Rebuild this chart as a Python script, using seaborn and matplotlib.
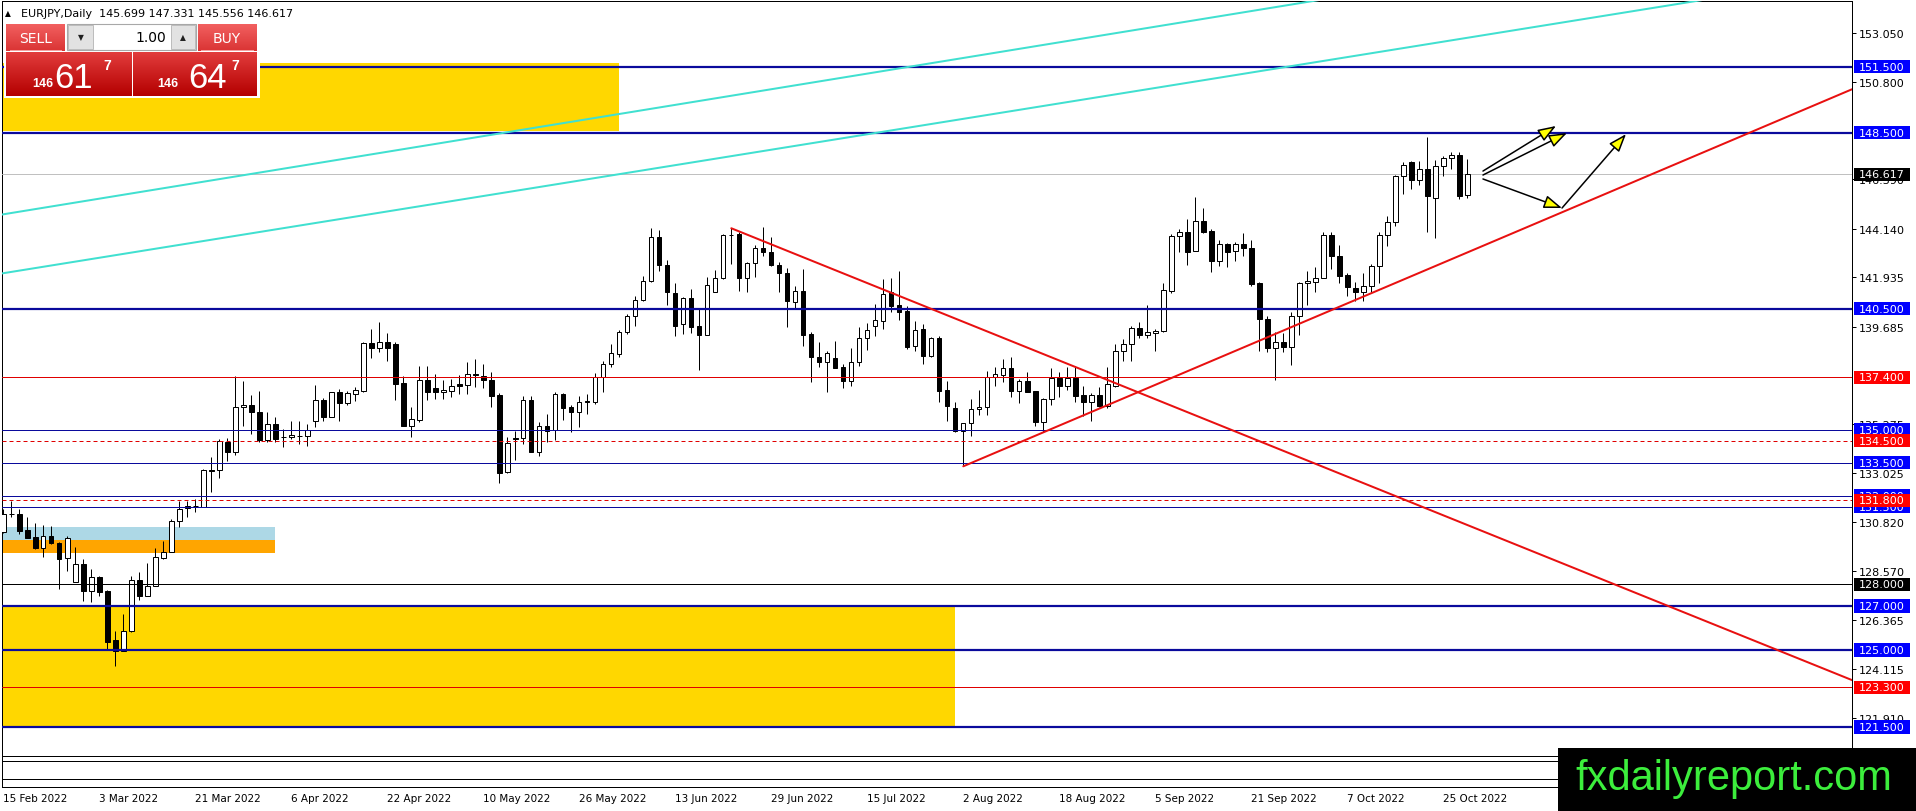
import numpy as np
import pandas as pd
import matplotlib
matplotlib.use("Agg")
import matplotlib.pyplot as plt
import matplotlib.transforms as mtransforms
from matplotlib.patches import Rectangle
from matplotlib.colors import LinearSegmentedColormap
import seaborn as sns

# ---------------- data (EURJPY daily candles) ----------------
opens = [130.35, 131.18, 131.18, 130.45, 130.12, 129.62, 130.17, 129.86, 129.17, 128.08,
         128.91, 127.7, 128.3, 127.7, 125.45, 124.97, 125.88, 128.18, 127.47, 127.89,
         129.18, 129.44, 130.88, 131.45, 131.56, 131.5, 133.2, 133.2, 134.47, 133.98,
         136.03, 136.14, 135.83, 134.56, 135.27, 134.7, 134.67, 134.74, 134.74, 135.42,
         136.36, 135.6, 136.71, 136.21, 136.62, 136.79, 138.95, 138.71, 138.99, 138.9,
         137.14, 135.2, 135.47, 137.27, 136.91, 136.71, 136.79, 137.1, 137.06, 137.53,
         137.47, 137.27, 136.59, 133.08, 134.62, 134.62, 136.36, 134.02, 135.17, 135.02,
         136.64, 136.03, 135.8, 136.3, 136.26, 137.39, 138.0, 138.45, 139.44, 140.2,
         140.92, 141.79, 143.76, 142.52, 141.21, 139.8, 140.99, 139.74, 139.33, 141.29,
         141.92, 143.86, 143.91, 141.92, 142.58, 143.27, 143.08, 142.52, 142.12, 140.8,
         141.3, 139.36, 138.3, 138.11, 138.26, 137.85, 137.24, 138.08, 139.17, 139.71,
         139.97, 141.26, 140.68, 140.42, 138.83, 139.59, 138.38, 139.17, 136.83, 136.0,
         134.94, 135.3, 135.95, 136.03, 137.42, 137.5, 137.8, 136.79, 137.23, 136.77,
         135.38, 136.41, 137.38, 136.99, 137.35, 136.59, 136.26, 136.59, 136.08, 137.02,
         138.58, 138.91, 139.62, 139.33, 139.41, 139.5, 141.33, 143.8, 143.98, 143.15,
         144.49, 144.05, 142.67, 143.44, 143.12, 143.44, 143.27, 141.67, 140.05, 138.74,
         138.98, 138.79, 140.2, 141.67, 141.74, 141.89, 143.86, 142.92, 142.05, 141.44,
         141.29, 141.53, 142.44, 143.86, 144.44, 146.56, 147.2, 146.38, 146.86, 145.53,
         147.02, 147.35, 147.5, 145.699]
highs = [131.41, 131.79, 131.41, 131.03, 130.77, 130.68, 130.62, 129.92, 130.2, 129.67,
         129.14, 128.68, 128.38, 127.74, 125.88, 126.64, 128.38, 128.53, 128.95, 129.62,
         129.97, 130.95, 131.79, 131.79, 131.86, 133.23, 133.76, 134.59, 134.62, 137.47,
         137.24, 136.59, 136.77, 135.83, 135.58, 135.04, 135.43, 135.43, 135.27, 137.05,
         136.44, 136.74, 136.86, 136.79, 136.94, 138.99, 139.59, 139.89, 139.41, 138.99,
         137.44, 136.03, 137.92, 137.89, 137.55, 137.27, 137.32, 137.5, 138.11, 138.23,
         138.0, 137.65, 136.68, 134.67, 134.97, 136.56, 136.56, 135.35, 135.73, 136.74,
         136.68, 136.14, 136.53, 136.64, 137.59, 138.15, 138.91, 139.56, 140.27, 141.08,
         142.01, 144.17, 144.09, 142.74, 141.67, 141.06, 141.41, 140.5, 141.94, 142.27,
         143.91, 144.17, 143.99, 142.65, 143.41, 144.21, 143.76, 142.62, 142.35, 141.56,
         142.32, 139.44, 138.98, 138.61, 139.06, 138.0, 138.73, 139.67, 139.86, 140.73,
         141.86, 141.89, 142.24, 140.65, 139.97, 139.8, 139.21, 139.29, 137.24, 136.26,
         135.3, 136.41, 136.83, 137.7, 137.85, 138.23, 138.3, 137.32, 137.62, 136.79,
         136.44, 137.8, 137.62, 137.85, 137.89, 137.02, 136.68, 136.94, 137.85, 138.91,
         139.14, 139.74, 139.89, 140.68, 139.59, 141.68, 143.91, 144.14, 144.59, 145.58,
         145.08, 144.14, 143.65, 143.5, 143.53, 143.94, 143.64, 141.71, 140.2, 139.44,
         139.41, 140.35, 141.71, 142.24, 142.42, 144.02, 143.98, 143.41, 142.14, 141.71,
         142.14, 142.55, 143.98, 144.74, 146.59, 147.2, 147.22, 147.24, 148.3, 147.29,
         147.47, 147.65, 147.62, 147.331]
lows = [130.3, 131.03, 130.27, 130.07, 129.59, 129.24, 129.82, 127.77, 128.6, 128.08,
        127.24, 127.2, 127.47, 125.04, 124.29, 124.97, 125.8, 127.29, 127.44, 127.89,
        129.14, 129.44, 130.6, 131.06, 131.26, 131.48, 132.2, 132.83, 133.6, 133.88,
        135.2, 134.82, 134.44, 134.47, 134.47, 134.21, 134.59, 134.36, 134.26, 135.15,
        135.42, 135.58, 135.42, 136.14, 136.33, 136.74, 138.27, 138.56, 138.15, 136.38,
        135.2, 134.67, 135.35, 136.38, 136.41, 136.41, 136.52, 136.64, 136.64, 136.94,
        136.91, 136.06, 132.58, 133.05, 133.65, 134.36, 133.99, 133.83, 134.44, 134.56,
        135.47, 134.89, 135.12, 135.73, 136.18, 136.71, 137.85, 138.3, 139.36, 139.74,
        140.88, 141.74, 142.24, 140.68, 139.29, 139.36, 139.41, 137.74, 139.33, 141.29,
        141.86, 142.55, 141.33, 141.29, 141.94, 142.92, 142.47, 141.29, 139.7, 140.53,
        138.83, 137.17, 137.88, 136.74, 137.8, 136.91, 137.02, 137.89, 138.65, 139.29,
        139.59, 140.35, 140.02, 138.68, 138.6, 138.0, 138.33, 136.29, 135.42, 134.89,
        133.35, 134.74, 135.68, 135.68, 136.98, 137.17, 136.48, 136.21, 136.72, 135.17,
        134.89, 136.14, 136.48, 136.83, 136.29, 135.65, 135.42, 136.03, 135.98, 136.94,
        138.15, 138.15, 139.17, 139.17, 138.61, 139.44, 141.23, 143.08, 142.52, 143.15,
        143.95, 142.2, 142.47, 142.42, 142.7, 142.92, 141.56, 138.6, 138.56, 137.29,
        138.53, 137.95, 139.32, 140.68, 141.29, 141.89, 142.32, 141.68, 141.08, 140.88,
        140.88, 141.29, 141.68, 143.38, 144.26, 145.73, 145.95, 146.15, 144.02, 143.71,
        146.56, 146.86, 145.5, 145.556]
closes = [131.18, 131.17, 130.42, 130.09, 129.62, 130.17, 129.85, 129.14, 130.08, 128.91,
          127.7, 128.3, 127.65, 125.38, 124.97, 125.88, 128.18, 127.47, 127.92, 129.21,
          129.47, 130.88, 131.41, 131.56, 131.56, 133.18, 133.15, 134.5, 133.98, 136.03,
          136.14, 135.8, 134.56, 135.27, 134.59, 134.66, 134.77, 134.74, 135.01, 136.36,
          135.6, 136.71, 136.21, 136.67, 136.82, 138.95, 138.71, 138.99, 138.71, 137.09,
          135.2, 135.5, 137.27, 136.74, 136.71, 136.82, 137.02, 137.02, 137.53, 137.5,
          137.27, 136.56, 133.05, 134.41, 134.59, 136.36, 133.99, 135.17, 134.94, 136.64,
          136.02, 135.8, 136.26, 136.26, 137.39, 138.0, 138.5, 139.44, 140.2, 140.92,
          141.79, 143.76, 142.52, 141.26, 139.74, 140.99, 139.7, 139.33, 141.59, 141.89,
          143.86, 143.88, 141.92, 142.58, 143.27, 143.08, 142.52, 142.12, 140.88, 141.3,
          139.33, 138.3, 138.11, 138.5, 137.82, 137.24, 138.08, 139.17, 139.56, 140.0,
          141.2, 140.65, 140.38, 138.79, 139.56, 138.38, 139.17, 136.79, 136.11, 134.97,
          135.3, 135.95, 136.06, 137.39, 137.53, 137.8, 136.79, 137.23, 136.74, 135.38,
          136.41, 137.38, 136.99, 137.38, 136.56, 136.26, 136.59, 136.08, 137.09, 138.58,
          138.91, 139.62, 139.33, 139.44, 139.5, 141.36, 143.8, 143.98, 143.08, 144.49,
          144.02, 142.7, 143.44, 143.08, 143.44, 143.26, 141.64, 140.05, 138.74, 138.98,
          138.79, 140.2, 141.67, 141.79, 141.89, 143.86, 142.89, 142.02, 141.48, 141.29,
          141.53, 142.47, 143.86, 144.47, 146.56, 147.05, 146.38, 146.86, 145.65, 147.02,
          147.35, 147.5, 145.65, 146.617]

date_labels = ["15 Feb 2022", "3 Mar 2022", "21 Mar 2022", "6 Apr 2022", "22 Apr 2022",
               "10 May 2022", "26 May 2022", "13 Jun 2022", "29 Jun 2022", "15 Jul 2022",
               "2 Aug 2022", "18 Aug 2022", "5 Sep 2022", "21 Sep 2022", "7 Oct 2022",
               "25 Oct 2022"]
date_label_bars = [0, 12, 24, 36, 48, 60, 72, 84, 96, 108, 120, 132, 144, 156, 168, 180]

# visible price-scale ticks (those fully hidden under level boxes are left out)
ytick_values = [153.050, 150.800, 146.390, 144.140, 141.935, 139.685,
                135.275, 133.025, 130.820, 128.570, 126.365, 124.115, 121.910]

# horizontal levels
level_prices = [151.5, 148.5, 146.617, 140.5, 137.4, 135.0, 134.5, 133.5, 132.0, 131.5,
                131.8, 128.0, 127.0, 125.0, 123.3, 121.5, 120.2, 119.95, 119.15]
level_colors = ["#0A0A9C", "#0A0A9C", "#C0C0C0", "#0A0A9C", "#E00000", "#0A0A9C", "#E00000",
                "#0A0A9C", "#0A0A9C", "#0A0A9C", "#E00000", "#000000", "#0A0A9C", "#0A0A9C",
                "#E00000", "#0A0A9C", "#000000", "#000000", "#000000"]
level_widths_px = [2.2, 2.2, 1, 2.2, 1, 1, 1, 1, 1, 1, 1, 1, 2.2, 2.2, 1, 2.2, 1, 1, 1]
level_dashed = [False, False, False, False, False, False, True, False, False, False,
                True, False, False, False, False, False, False, False, False]
level_box_colors = ["#0000FF", "#0000FF", "#000000", "#0000FF", "#FF0000", "#0000FF",
                    "#FF0000", "#0000FF", "#0000FF", "#0000FF", "#FF0000", "#000000",
                    "#0000FF", "#0000FF", "#FF0000", "#0000FF", None, None, None]

# zones (rectangles): bar range and price range
zone_x0 = [-0.2, -0.2, -0.2, -0.2]
zone_x1 = [77.0, 119.0, 34.0, 34.0]
zone_lo = [148.6, 121.5, 130.0, 129.4]
zone_hi = [151.7, 127.0, 130.6, 130.0]
zone_colors = ["#FFD700", "#FFD700", "#ADD8E6", "#FFA500"]

# trend lines (bar, price) -> (bar, price)
trend_x0 = [-0.16, -0.16, 91.0, 120.0]
trend_p0 = [144.795, 142.118, 144.17, 133.35]
trend_x1 = [231.1, 231.1, 231.1, 231.1]
trend_p1 = [158.49, 155.64, 123.63, 150.49]
trend_colors = ["#40E0D0", "#40E0D0", "#E81010", "#E81010"]

# arrows (bar, price) -> (bar, price)
arrow_x0 = [184.96, 184.96, 184.96, 194.84]
arrow_p0 = [146.77, 146.59, 146.41, 145.09]
arrow_x1 = [194.09, 195.46, 194.84, 202.84]
arrow_p1 = [148.82, 148.50, 145.09, 148.45]

header_text = "EURJPY,Daily  145.699 147.331 145.556 146.617"

# ---------------- figure ----------------
sns.set_style("white")
plt.rcParams["font.family"] = ["DejaVu Sans"]

W, H = 1916, 812
fig = plt.figure(figsize=(W / 100, H / 100), dpi=100)
fig.patch.set_facecolor("white")
ax = fig.add_axes([2 / W, (H - 788) / H, 1850 / W, 786 / H])
ax.set_facecolor("white")

PT = 0.72  # points per pixel

# zones
for x0, x1, lo, hi, c in zip(zone_x0, zone_x1, zone_lo, zone_hi, zone_colors):
    ax.add_patch(Rectangle((x0, lo), x1 - x0, hi - lo, facecolor=c, edgecolor="none", zorder=1))

# candles
df = pd.DataFrame({"o": opens, "h": highs, "l": lows, "c": closes})
df["x"] = np.arange(len(df))
ax.vlines(df["x"], df["l"], df["h"], color="black", lw=1.0 * PT, zorder=4)
body_bottom = np.minimum(df["o"], df["c"])
body_h = np.abs(df["c"] - df["o"])
body_col = ["white" if c >= o else "black" for o, c in zip(df["o"], df["c"])]
ax.bar(df["x"], body_h, bottom=body_bottom, width=0.55, color=body_col,
       edgecolor="black", lw=1.0 * PT, zorder=5)

# levels
for p, c, w, d in zip(level_prices, level_colors, level_widths_px, level_dashed):
    ax.axhline(p, color=c, lw=w * PT, ls=(0, (4, 3)) if d else "-",
               zorder=3 if c == "#C0C0C0" else 6)

# trend lines via seaborn
for x0, p0, x1, p1, c in zip(trend_x0, trend_p0, trend_x1, trend_p1, trend_colors):
    sns.lineplot(x=[x0, x1], y=[p0, p1], ax=ax, color=c, linewidth=2.0 * PT, zorder=7)

# arrows
for x0, p0, x1, p1 in zip(arrow_x0, arrow_p0, arrow_x1, arrow_p1):
    ax.annotate("", xy=(x1, p1), xytext=(x0, p0),
                arrowprops=dict(arrowstyle="-|>,head_length=0.55,head_width=0.2",
                                fc="#FFFF00", ec="black", lw=1.1,
                                shrinkA=0, shrinkB=0, mutation_scale=20),
                zorder=8)

# axes limits
PXU = 22.0
ax.set_ylim(140.5 - (788 - 310) / PXU, 140.5 + (310 - 2) / PXU)
ax.set_xlim((2 - 3.3) / 8, (1852 - 3.3) / 8)
ax.set_xlabel("")
ax.set_ylabel("")

for s in ax.spines.values():
    s.set_color("black")
    s.set_linewidth(1.0 * PT)
    s.set_visible(True)

ax.yaxis.tick_right()
ax.set_yticks(ytick_values)
ax.set_yticklabels([f"{v:.3f}" for v in ytick_values])
ax.tick_params(axis="y", which="both", right=True, left=False, labelright=True,
               labelleft=False, length=4 * PT, width=1.0 * PT, pad=2, labelsize=8,
               direction="out", colors="black")
ax.set_xticks(date_label_bars)
ax.set_xticklabels(date_labels)
ax.tick_params(axis="x", length=3 * PT, width=1.0 * PT, pad=2.5, labelsize=7.5,
               direction="out", colors="black")
for lab in ax.get_xticklabels():
    lab.set_ha("left")

# level labels on the right axis
trans = mtransforms.blended_transform_factory(fig.transFigure, ax.transData)
for i, (p, bc) in enumerate(zip(level_prices, level_box_colors)):
    if bc is None:
        continue
    ax.add_patch(Rectangle((1854 / W, p - 6.5 / PXU), 56 / W, 13 / PXU, transform=trans,
                           facecolor=bc, edgecolor="none", clip_on=False, zorder=10 + i))
    ax.text(1882 / W, p, f"{p:.3f}", transform=trans, color="white", fontsize=8,
            ha="center", va="center", clip_on=False, zorder=10.5 + i)

# ---------------- overlays in pixel coordinates ----------------
def fx(x):
    return x / W


def fy(y):
    return 1 - y / H


def px_rect(x0, y0, x1, y1, fc, ec="none", lw=0, z=4):
    r = Rectangle((fx(x0), fy(y1)), (x1 - x0) / W, (y1 - y0) / H, transform=fig.transFigure,
                  facecolor=fc, edgecolor=ec, lw=lw, zorder=z)
    fig.add_artist(r)


def grad_box(x0, y0, x1, y1, c_top, c_bot, z=5):
    a = fig.add_axes([fx(x0), fy(y1), (x1 - x0) / W, (y1 - y0) / H], zorder=z)
    a.axis("off")
    cmap = LinearSegmentedColormap.from_list("g", [c_top, c_bot])
    a.imshow(np.linspace(0, 1, 64).reshape(-1, 1), aspect="auto", cmap=cmap,
             extent=[0, 1, 0, 1], origin="upper")


# header
fig.text(fx(5), fy(16.5), "▲", fontsize=5.5, color="black", va="baseline", zorder=20)
fig.text(fx(21), fy(17), header_text, fontsize=8, color="black", va="baseline", zorder=20)

# trade panel
px_rect(4, 23, 260, 99, "white", z=4)
grad_box(6, 25, 65, 52, "#F26060", "#DA3434")
grad_box(198, 25, 257, 52, "#F26060", "#DA3434")
grad_box(6, 53, 131, 97, "#E23C3C", "#B40000")
grad_box(133, 53, 257, 97, "#E23C3C", "#B40000")
px_rect(10, 51, 62, 52, "#F4A0A0", z=6)
px_rect(201, 51, 254, 52, "#F4A0A0", z=6)
px_rect(67, 25, 196, 51, "white", ec="#A8A8A8", lw=0.8, z=6)
px_rect(68, 26, 93, 50, "#E2E2E2", ec="#B4B4B4", lw=0.6, z=6.5)
px_rect(171, 26, 195, 50, "#E2E2E2", ec="#B4B4B4", lw=0.6, z=6.5)
fig.text(fx(80.5), fy(38), "▼", fontsize=5.5, ha="center", va="center", color="#202020", zorder=20)
fig.text(fx(183), fy(37.5), "▲", fontsize=5.5, ha="center", va="center", color="#202020", zorder=20)
fig.text(fx(166), fy(38), "1.00", fontsize=10, ha="right", va="center", color="black", zorder=20)
fig.text(fx(35.5), fy(39), "SELL", fontsize=10, ha="center", va="center", color="white", zorder=20)
fig.text(fx(227), fy(39), "BUY", fontsize=10, ha="center", va="center", color="white", zorder=20)
for xs, big, x_big, x_sup in [(43, "61", 74, 107), (168, "64", 208, 235)]:
    fig.text(fx(xs), fy(87), "146", fontsize=9, fontweight="bold", ha="center",
             va="baseline", color="white", zorder=20, family="Liberation Sans")
    fig.text(fx(x_big), fy(88), big, fontsize=25, ha="center", va="baseline",
             color="white", zorder=20, family="Liberation Sans")
    fig.text(fx(x_sup), fy(70), "7", fontsize=10, fontweight="bold", ha="center",
             va="baseline", color="white", zorder=20, family="Liberation Sans")

# watermark
px_rect(1558, 749, 1916, 812, "black", z=30)
fig.text(fx(1575), fy(790), "fxdailyreport.com", fontsize=30, color="#3CEE3C",
         family="Liberation Sans", va="baseline", ha="left", zorder=31)

fig.savefig("out.png", dpi=100, facecolor="white")
